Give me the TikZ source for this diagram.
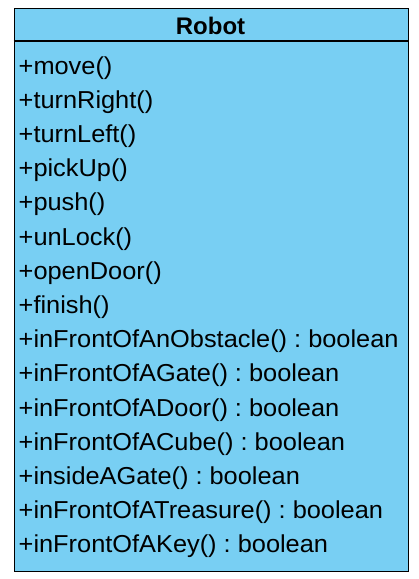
\documentclass[tikz,border=0pt]{standalone}
\usepackage{fontspec}
\setmainfont{Liberation Sans}
\definecolor{umlblue}{RGB}{120,207,243}
\begin{document}
\frenchspacing
\begin{tikzpicture}[x=1pt,y=-1pt,
  rowtext/.style={anchor=base west,inner sep=0pt,font=\fontsize{24.5}{26}\selectfont\addfontfeature{FakeStretch=1.035}},
  titletext/.style={anchor=base,inner sep=0pt,font=\fontsize{24}{26}\selectfont\bfseries}]
\useasboundingbox (0,0) rectangle (419,579);
\node[draw=black,line width=1.6pt,fill=umlblue,minimum width=394pt,minimum height=563pt,inner sep=0pt,anchor=north west] (box) at (13.5,7.5) {};
\coordinate (sepL) at (13.5,41);
\coordinate (sepR) at (407.5,41);
\draw[line width=1.6pt] (sepL) -- (sepR);
\node[titletext] (title) at (210.5,34.5) {Robot};
\foreach \t [count=\i from 0] in {+move(),+turnRight(),+turnLeft(),+pickUp(),+push(),+unLock(),+openDoor(),+finish(),+inFrontOfAnObstacle() : boolean,+inFrontOfAGate() : boolean,+inFrontOfADoor() : boolean,+inFrontOfACube() : boolean,+insideAGate() : boolean,+inFrontOfATreasure() : boolean,+inFrontOfAKey() : boolean}
  \node[rowtext] (r\i) at (18.5,{74+34.2*\i}) {\t};
\end{tikzpicture}
\end{document}
